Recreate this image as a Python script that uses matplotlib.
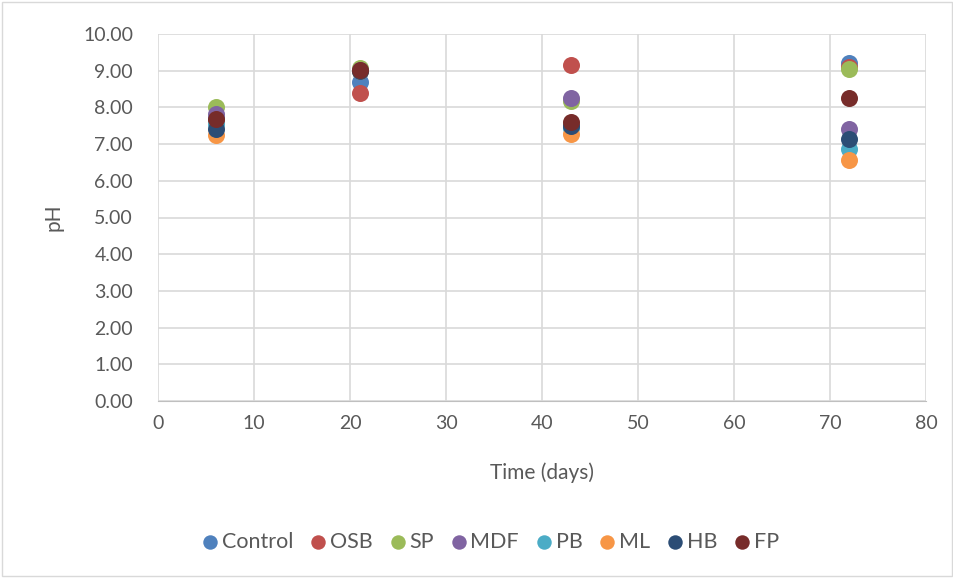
import matplotlib.pyplot as plt
from matplotlib.patches import Rectangle

# pH readings per board type at each sampling day
days = [6, 21, 43, 72]
series = ['Control', 'OSB', 'SP', 'MDF', 'PB', 'ML', 'HB', 'FP']
ph_control = [7.72, 8.70, 7.50, 9.20]
ph_osb = [7.62, 8.40, 9.16, 9.10]
ph_sp = [8.00, 9.07, 8.18, 9.04]
ph_mdf = [7.82, 9.02, 8.25, 7.40]
ph_pb = [7.55, 9.00, 7.45, 6.88]
ph_ml = [7.24, 9.00, 7.28, 6.58]
ph_hb = [7.40, 9.00, 7.50, 7.14]
ph_fp = [7.68, 9.03, 7.60, 8.26]
colors = ['#4F81BD', '#C0504D', '#9BBB59', '#8064A2', '#4BACC6', '#F79646', '#2C4D75', '#772C2A']

plt.rcParams['font.family'] = ['Lato', 'DejaVu Sans']

fig = plt.figure(figsize=(9.54, 5.78), dpi=100)
ax = fig.add_axes([158/954, 1 - 401/578, 768/954, 367/578])

all_ph = [ph_control, ph_osb, ph_sp, ph_mdf, ph_pb, ph_ml, ph_hb, ph_fp]
for name, vals, c in zip(series, all_ph, colors):
    ax.scatter(days, vals, s=150, color=c, label=name, zorder=3, linewidths=0)

ax.set_xlim(0, 80)
ax.set_ylim(0, 10)
ax.set_xticks(range(0, 81, 10))
ax.set_yticks([i for i in range(11)])
ax.set_yticklabels(['%.2f' % i for i in range(11)])
ax.grid(True, color='#D9D9D9', linewidth=1.2)
ax.set_axisbelow(True)
for s in ['top', 'right', 'left']:
    ax.spines[s].set_visible(False)
ax.spines['bottom'].set_color('#BFBFBF')
ax.tick_params(length=0, labelsize=14, colors='#595959')
ax.tick_params(axis='y', pad=18)
ax.tick_params(axis='x', pad=10)
ax.set_xlabel('Time (days)', fontsize=15, color='#595959', labelpad=22)
ax.set_ylabel('pH', fontsize=15, color='#595959', labelpad=14)

fig.legend(loc='center', bbox_to_anchor=(0.514, 1 - 542/578), ncol=8, frameon=False,
           fontsize=15.5, handlelength=0.8, handletextpad=0.15, columnspacing=0.75,
           markerscale=0.85, labelcolor='#595959')

fig.patches.append(Rectangle((0.002, 0.003), 0.996, 0.994, transform=fig.transFigure,
                             fill=False, edgecolor='#D9D9D9', linewidth=1))

fig.savefig('out.png', dpi=100)
